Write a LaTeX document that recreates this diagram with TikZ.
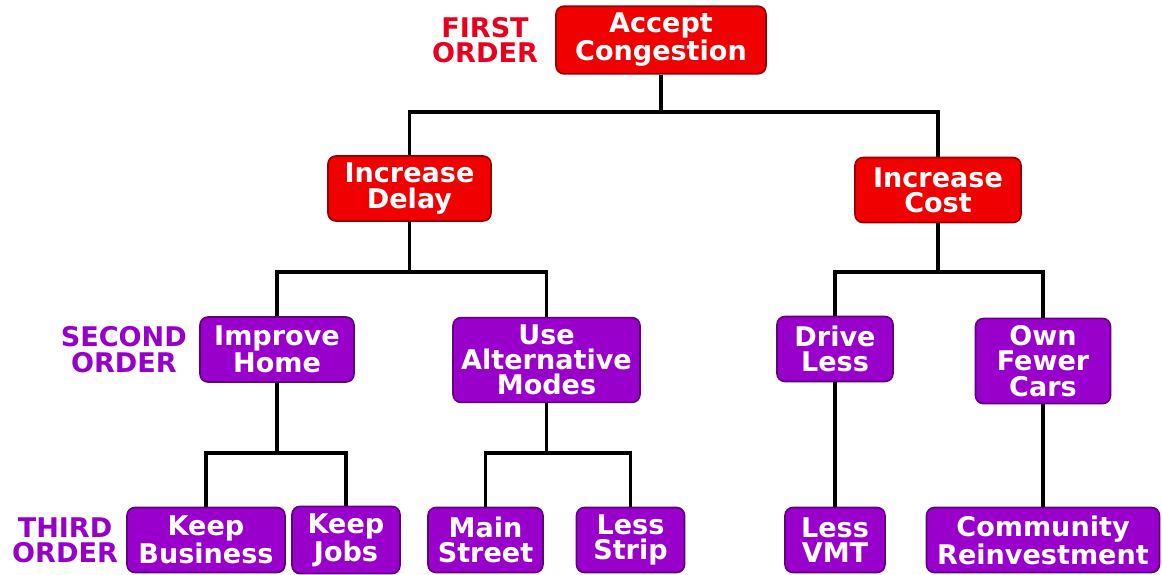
\documentclass[tikz,border=0pt]{standalone}
\usepackage{fontspec}
\setmainfont{DejaVu Sans}
\usetikzlibrary{positioning}
\definecolor{boxred}{RGB}{240,0,0}
\definecolor{linered}{RGB}{150,0,0}
\definecolor{boxpurple}{RGB}{153,0,204}
\definecolor{linepurple}{RGB}{95,0,125}
\definecolor{lblred}{RGB}{232,0,30}
\definecolor{lblpurple}{RGB}{150,0,200}

\begin{document}
\begin{tikzpicture}[font=\fontsize{15.4}{14.4}\selectfont\bfseries]
     \tikzstyle{box_style} = [rectangle,rounded corners=4.5pt,align=center,text=white,inner xsep=3pt,inner ysep=4pt,minimum height=1.3cm,line width=0.9pt]
     \tikzstyle{red_style} = [box_style,fill=boxred,draw=linered]
     \tikzstyle{purple_style} = [box_style,fill=boxpurple,draw=linepurple]
     \tikzstyle{label_style} = [align=center,inner sep=0pt]
     \tikzstyle{edge_style} = [draw=black,line width=2.1pt]
     \useasboundingbox (0,0) rectangle (23.24,-11.48);
     \node[red_style,minimum width=4.2cm] (accept) at (13.22,-0.80) {Accept\\Congestion};
     \node[red_style,minimum width=3.26cm] (delay) at (8.19,-3.77) {Increase\\Delay};
     \node[red_style,minimum width=3.32cm] (cost) at (18.76,-3.80) {Increase\\Cost};
     \node[purple_style,minimum width=3.08cm] (home) at (5.54,-6.99) {Improve\\Home};
     \node[purple_style,minimum width=3.74cm] (modes) at (10.93,-7.20) {Use\\Alternative\\Modes};
     \node[purple_style,minimum width=2.32cm] (drive) at (16.70,-6.98) {Drive\\Less};
     \node[purple_style,minimum width=2.70cm] (fewer) at (20.86,-7.22) {Own\\Fewer\\Cars};
     \node[purple_style,minimum width=3.16cm] (business) at (4.12,-10.80) {Keep\\Business};
     \node[purple_style,minimum width=2.16cm] (jobs) at (6.92,-10.80) {Keep\\Jobs};
     \node[purple_style,minimum width=2.30cm] (mainst) at (9.71,-10.80) {Main\\Street};
     \node[purple_style,minimum width=2.16cm] (strip) at (12.61,-10.80) {Less\\Strip};
     \node[purple_style,minimum width=2.0cm] (vmt) at (16.70,-10.80) {Less\\VMT};
     \node[purple_style,minimum width=4.66cm] (reinvest) at (20.86,-10.80) {Community\\Reinvestment};
     \node[label_style,text=lblred,left=0.34cm of accept] (first) {FIRST\\ORDER};
     \node[label_style,text=lblpurple,left=0.24cm of home] (second) {SECOND\\ORDER};
     \node[label_style,text=lblpurple,left=0.16cm of business] (third) {THIRD\\ORDER};
     \coordinate (b1) at (0,-2.24);
     \coordinate (b2) at (0,-5.44);
     \coordinate (b3) at (0,-9.06);
     \draw[edge_style] (accept.south) -- (accept |- b1) -| (delay.north);
     \draw[edge_style] (accept |- b1) -| (cost.north);
     \draw[edge_style] (delay.south) -- (delay |- b2) -| (home.north);
     \draw[edge_style] (delay |- b2) -| (modes.north);
     \draw[edge_style] (cost.south) -- (cost |- b2) -| (drive.north);
     \draw[edge_style] (cost |- b2) -| (fewer.north);
     \draw[edge_style] (home.south) -- (home |- b3) -| (business.north);
     \draw[edge_style] (home |- b3) -| (jobs.north);
     \draw[edge_style] (modes.south) -- (modes |- b3) -| (mainst.north);
     \draw[edge_style] (modes |- b3) -| (strip.north);
     \draw[edge_style] (drive) -- (vmt);
     \draw[edge_style] (fewer) -- (reinvest);
\end{tikzpicture}
\end{document}
